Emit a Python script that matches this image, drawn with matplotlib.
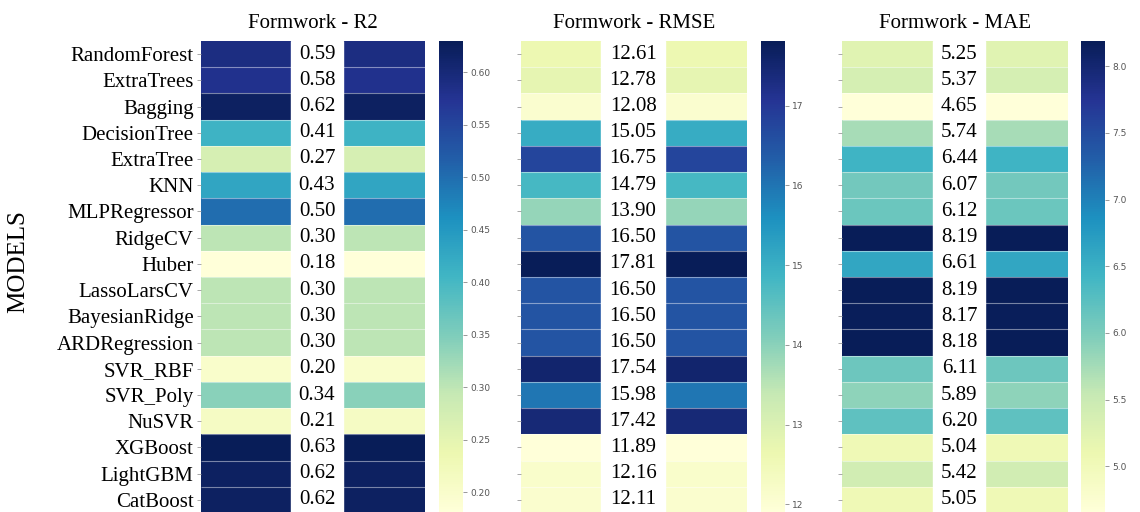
import numpy as np
import matplotlib.pyplot as plt
from matplotlib.ticker import MultipleLocator, FormatStrFormatter

plt.rcParams['font.family'] = ['Liberation Serif', 'DejaVu Serif']

models = ['RandomForest', 'ExtraTrees', 'Bagging', 'DecisionTree', 'ExtraTree',
          'KNN', 'MLPRegressor', 'RidgeCV', 'Huber', 'LassoLarsCV',
          'BayesianRidge', 'ARDRegression', 'SVR_RBF', 'SVR_Poly', 'NuSVR',
          'XGBoost', 'LightGBM', 'CatBoost']

r2 = [0.59, 0.58, 0.62, 0.41, 0.27, 0.43, 0.50, 0.30, 0.18, 0.30,
      0.30, 0.30, 0.20, 0.34, 0.21, 0.63, 0.62, 0.62]
rmse = [12.61, 12.78, 12.08, 15.05, 16.75, 14.79, 13.90, 16.50, 17.81, 16.50,
        16.50, 16.50, 17.54, 15.98, 17.42, 11.89, 12.16, 12.11]
mae = [5.25, 5.37, 4.65, 5.74, 6.44, 6.07, 6.12, 8.19, 6.61, 8.19,
       8.17, 8.18, 6.11, 5.89, 6.20, 5.04, 5.42, 5.05]

titles = ['Formwork - R2', 'Formwork - RMSE', 'Formwork - MAE']
metrics = [r2, rmse, mae]
cbar_steps = [0.05, 1, 0.5]
cbar_fmts = ['%.2f', '%d', '%.1f']

# figure-fraction layout: heatmap left/width, colorbar left/width
heat_left = [0.176, 0.4568, 0.7383]
heat_width = [0.1968, 0.1985, 0.1985]
cbar_left = [0.3854, 0.6675, 0.9482]
cbar_width = 0.0211
bottom, height = -0.002, 0.922
band_pad = 8  # px of white on each side of the numbers

fig = plt.figure(figsize=(11.4, 5.12), dpi=100)
renderer = fig.canvas.get_renderer()

for i in range(3):
    values = np.array(metrics[i])
    n = len(values)
    ax = fig.add_axes([heat_left[i], bottom, heat_width[i], height])
    mesh = ax.pcolormesh(values[:, None], cmap='YlGnBu')
    ax.hlines(np.arange(1, n), 0, 1, colors=[(1, 1, 1, 0.45)], linewidth=0.8)
    ax.set_xlim(0, 1)
    ax.set_ylim(n, 0)

    texts = [ax.text(0.6, row + 0.5, '%.2f' % v, ha='right', va='center',
                     fontsize=15, color='black', zorder=4)
             for row, v in enumerate(values)]

    # white band behind the numbers, as wide as the widest one
    inv = ax.transData.inverted()
    x0 = min(t.get_window_extent(renderer).x0 for t in texts)
    x1 = max(t.get_window_extent(renderer).x1 for t in texts)
    bx0 = inv.transform((x0 - band_pad, 0))[0]
    bx1 = inv.transform((x1 + band_pad, 0))[0]
    ax.axvspan(bx0, bx1, color='white', zorder=3)

    ax.set_xticks([])
    ax.set_yticks(np.arange(n) + 0.5)
    ax.set_yticklabels(models if i == 0 else [], fontsize=15)
    ax.tick_params(axis='y', length=3, width=0.6, color='#999999', pad=2)
    for s in ax.spines.values():
        s.set_visible(False)
    ax.set_title(titles[i], fontsize=15, pad=9)

    cax = fig.add_axes([cbar_left[i], bottom, cbar_width, height])
    cb = fig.colorbar(mesh, cax=cax)
    cb.outline.set_visible(False)
    cb.ax.yaxis.set_major_locator(MultipleLocator(cbar_steps[i]))
    cb.ax.yaxis.set_major_formatter(FormatStrFormatter(cbar_fmts[i]))
    cb.ax.tick_params(labelsize=6.5, length=3, width=0.6, color='#888888',
                      labelcolor='#555555', pad=2)
    for lab in cb.ax.get_yticklabels():
        lab.set_family('DejaVu Sans')

fig.text(0.016, 0.49, 'MODELS', rotation=90, fontsize=18,
         ha='center', va='center')

fig.savefig('out.png', dpi=100)
